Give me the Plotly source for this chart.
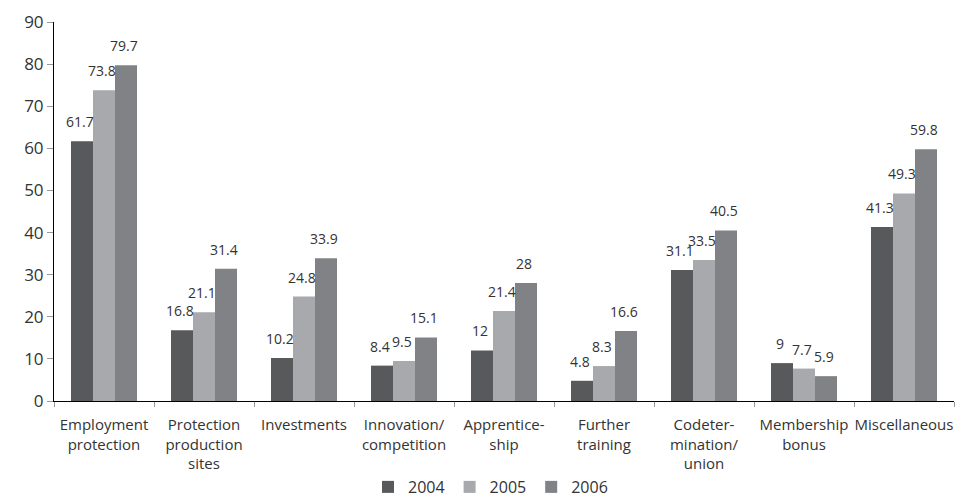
import plotly.graph_objects as go

categories = ["Employment<br>protection", "Protection<br>production<br>sites", "Investments",
              "Innovation/<br>competition", "Apprentice-<br>ship", "Further<br>training",
              "Codeter-<br>mination/<br>union", "Membership<br>bonus", "Miscellaneous"]
years = ["2004", "2005", "2006"]
v2004 = [61.7, 16.8, 10.2, 8.4, 12, 4.8, 31.1, 9, 41.3]
v2005 = [73.8, 21.1, 24.8, 9.5, 21.4, 8.3, 33.5, 7.7, 49.3]
v2006 = [79.7, 31.4, 33.9, 15.1, 28, 16.6, 40.5, 5.9, 59.8]
colors = ["#58595b", "#a7a9ac", "#808285"]

series = [v2004, v2005, v2006]
fig = go.Figure()
for name, vals, c in zip(years, series, colors):
    fig.add_trace(go.Bar(x=categories, y=vals, name=name, marker_color=c,
                         marker_line_width=0))

# value labels above each bar (bar width = 22 px in the group)
for i, vals in enumerate(series):
    for cat, v in zip(categories, vals):
        fig.add_annotation(x=cat, y=v, text=f"{v:g}", showarrow=False,
                           xshift=(i - 1) * 22 - 2, yshift=8, yanchor="bottom",
                           font=dict(size=14, color="#333333"))

fig.update_layout(
    width=955, height=499, barmode="group", bargap=0.34, bargroupgap=0,
    margin=dict(l=54, r=1, t=22, b=98, autoexpand=False),
    plot_bgcolor="white", paper_bgcolor="white",
    font=dict(family="Open Sans", color="#333333"),
    showlegend=True,
    legend=dict(orientation="h", x=0.485, xanchor="center", y=-0.182, yanchor="top",
                font=dict(size=16), itemwidth=30, traceorder="normal"),
    xaxis=dict(showline=True, linecolor="#000", linewidth=1, ticks="outside",
               tickson="boundaries", ticklen=5, tickcolor="#999", automargin=False,
               ticklabelstandoff=10,
               tickfont=dict(size=15, color="#333333"), tickangle=0),
    yaxis=dict(range=[0, 90], dtick=10, showline=True, linecolor="#000", linewidth=1,
               ticks="outside", ticklen=6, tickcolor="#999", showgrid=False,
               automargin=False,
               zeroline=False, tickfont=dict(size=17, color="#333333")),
)
fig.write_html(
    "out.html",
    config={"displayModeBar": False},
    post_script=("document.documentElement.style.margin='0';"
                 "document.documentElement.style.overflow='hidden';"
                 "document.body.style.margin='0';"
                 "document.body.style.overflow='hidden';"),
)
